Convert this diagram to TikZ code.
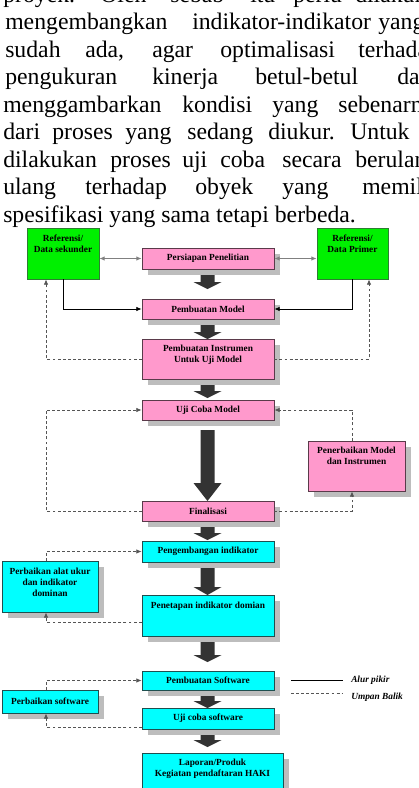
\documentclass[tikz,border=0pt]{standalone}
\usepackage{fontspec}
\setmainfont{Liberation Serif}
\usetikzlibrary{arrows.meta,shadows,calc}
\definecolor{pinkfill}{HTML}{FF99CC}
\definecolor{pinkedge}{HTML}{5A3A4A}
\definecolor{greenfill}{HTML}{00F000}
\definecolor{greenedge}{HTML}{2E7D32}
\definecolor{cyanfill}{HTML}{00FFFF}
\definecolor{cyanedge}{HTML}{1F4F4F}
\definecolor{shgrey}{HTML}{BDBDBD}
\definecolor{arrfill}{HTML}{333333}
\definecolor{fbgrey}{HTML}{555555}
\newcommand\bigarr[3]{%
  \fill[arrfill] (200.5,#1) -- (214.5,#1) -- (214.5,#2) -- (221.5,#2) -- (207.5,#3) -- (193.5,#2) -- (200.5,#2) -- cycle;}
\begin{document}
\begin{tikzpicture}[x=0.75pt,y=-0.75pt,
  para/.style={anchor=base west, inner sep=0pt, font=\fontsize{17.8}{20}\selectfont},
  shbox/.style={inner sep=0pt, line width=0.6pt, general shadow={fill=shgrey, shadow xshift=4.5pt, shadow yshift=-4.5pt}},
  pinkbox/.style={shbox, draw=pinkedge, fill=pinkfill},
  cyanbox/.style={shbox, draw=cyanedge, fill=cyanfill},
  greenbox/.style={inner sep=0pt, line width=0.6pt, draw=greenedge, fill=greenfill},
  btxt/.style={inner sep=0pt, align=center, font=\fontsize{7}{8.25}\selectfont\bfseries},
  legtxt/.style={inner sep=0pt, anchor=west, font=\fontsize{7}{8.25}\selectfont\bfseries\itshape},
  tip/.style={-{Latex[length=4pt,width=3.5pt]}},
  flow/.style={tip, line width=0.6pt, draw=black},
  fb/.style={tip, line width=0.6pt, draw=fbgrey, dash pattern=on 2.2pt off 1.6pt},
  dbl/.style={{Latex[length=4pt,width=3.5pt]}-{Latex[length=4pt,width=3.5pt]}, line width=0.8pt, draw=gray}
]
\useasboundingbox (0,0) rectangle (418,788);
\clip (0,0) rectangle (418,788);

% paragraph
\foreach \x/\w in {3/proyek.,100/Oleh,170/sebab,250/itu,293/perlu,355/dilakukan}
  \node[para] (pa\x) at (\x,2.5) {\w};
\foreach \x/\w in {5/mengembangkan,192/indikator-indikator,378/yang}
  \node[para] (pb\x) at (\x,30) {\w};
\foreach \x/\w in {5/sudah,85/{ada,},152/agar,220/optimalisasi,358/terhadap}
  \node[para] (pc\x) at (\x,57.5) {\w};
\foreach \x/\w in {5/pengukuran,152/kinerja,255/betul-betul,397/dapat}
  \node[para] (pd\x) at (\x,85) {\w};
\foreach \x/\w in {3/menggambarkan,182/kondisi,272/yang,338/sebenarnya}
  \node[para] (pe\x) at (\x,112.5) {\w};
\foreach \x/\w in {3/dari,52/proses,125/yang,187/sedang,268/diukur.,350/Untuk}
  \node[para] (pf\x) at (\x,140) {\w};
\foreach \x/\w in {3/dilakukan,110/proses,182/uji,220/coba,282/secara,355/berulang}
  \node[para] (pg\x) at (\x,167.5) {\w};
\foreach \x/\w in {3/ulang,85/terhadap,195/obyek,282/yang,362/memiliki}
  \node[para] (ph\x) at (\x,195) {\w};
\node[para] (pi3) at (3,222.5) {spesifikasi yang sama tetapi berbeda.};

% big arrows
\bigarr{269}{282}{289}
\bigarr{319}{332}{339}
\bigarr{379}{391}{398}
\bigarr{430}{483}{501}
\bigarr{521}{533}{540}
\bigarr{562}{587}{595}
\bigarr{640}{655}{662}
\bigarr{690}{701}{708}
\bigarr{729}{740}{747}

% boxes
\node[greenbox, minimum width=54pt, minimum height=38.25pt] (refL) at (63,253.5) {};
\node[greenbox, minimum width=53.25pt, minimum height=38.25pt] (refR) at (352.5,253.5) {};
\node[pinkbox, minimum width=99pt, minimum height=15.75pt] (persiapan) at (208,258.5) {};
\node[pinkbox, minimum width=99pt, minimum height=15pt] (model) at (208,309) {};
\node[pinkbox, minimum width=99pt, minimum height=30pt] (instr) at (208,359) {};
\node[pinkbox, minimum width=99pt, minimum height=15pt] (uji) at (208,410) {};
\node[pinkbox, minimum width=72.75pt, minimum height=37.5pt] (penerb) at (356.5,466) {};
\node[pinkbox, minimum width=99pt, minimum height=15pt] (final) at (208,511) {};
\node[cyanbox, minimum width=99pt, minimum height=15.75pt] (pengem) at (208,551.5) {};
\node[cyanbox, minimum width=72pt, minimum height=38.25pt] (alat) at (50,586.5) {};
\node[cyanbox, minimum width=99pt, minimum height=30.75pt] (penet) at (208,615.5) {};
\node[cyanbox, minimum width=99pt, minimum height=14.25pt] (pembsw) at (208,680.5) {};
\node[cyanbox, minimum width=72pt, minimum height=17.25pt] (perbsw) at (50,701.5) {};
\node[cyanbox, minimum width=99pt, minimum height=15.75pt] (ujisw) at (208,718.5) {};
\node[cyanbox, minimum width=105.75pt, minimum height=35.25pt] (lapor) at (212.5,776.5) {};

% box texts
\node[btxt] (refLt) at (63,244) {Referensi/\\Data sekunder};
\node[btxt] (refRt) at (352.5,244) {Referensi/\\Data Primer};
\node[btxt] (persiapant) at (persiapan) {Persiapan Penelitian};
\node[btxt] (modelt) at (model) {Pembuatan Model};
\node[btxt] (instrt) at (208,354.5) {Pembuatan Instrumen\\Untuk Uji Model};
\node[btxt] (ujit) at (uji) {Uji Coba Model};
\node[btxt] (penerbt) at (356.5,455.5) {Penerbaikan Model\\dan Instrumen};
\node[btxt] (finalt) at (final) {Finalisasi};
\node[btxt] (pengemt) at (pengem) {Pengembangan indikator};
\node[btxt] (alatt) at (50,582) {Perbaikan alat ukur\\dan indikator\\dominan};
\node[btxt] (penett) at (208,606) {Penetapan indikator domian};
\node[btxt] (pembswt) at (pembsw) {Pembuatan Software};
\node[btxt] (perbswt) at (perbsw) {Perbaikan software};
\node[btxt] (ujiswt) at (ujisw) {Uji coba software};
\node[btxt] (laport) at (212.5,768.5) {Laporan/Produk\\Kegiatan pendaftaran HAKI};

% connectors
\coordinate (xl) at (46,0);
\coordinate (xr) at (369,0);
\coordinate (xp) at (352,0);
\draw[dbl] (refL.east |- persiapan.west) -- (persiapan.west);
\draw[dbl] (persiapan.east) -- (refR.west |- persiapan.east);
\draw[flow] (refL.south) |- (model.west);
\draw[flow] (refR.south) |- (model.east);
\draw[fb] (instr.west) -| (xl |- refL.south);
\draw[fb] (instr.east) -| (xr |- refR.south);
\draw[fb] (final.west) -| (xl |- uji.west) -- (uji.west);
\draw[fb] (final.east) -| (xp |- penerb.south);
\draw[fb] (xp |- penerb.north) |- (uji.east);
\draw[fb] (xl |- alat.north) |- (pengem.west);
\coordinate (pf) at ($(penet.west)+(0,6.5)$);
\draw[fb] (pf) -| (xl |- alat.south);
\draw[fb] (xl |- perbsw.north) |- (pembsw.west);
\coordinate (uf) at ($(ujisw.west)+(0,8.5)$);
\draw[fb] (uf) -| (xl |- perbsw.south);

% legend
\coordinate (la) at (291,680);
\coordinate (lb) at (343,680);
\coordinate (lc) at (291,693);
\coordinate (ld) at (343,693);
\draw[line width=0.6pt] (la) -- (lb);
\draw[line width=0.6pt, draw=fbgrey, dash pattern=on 2.2pt off 1.6pt] (lc) -- (ld);
\node[legtxt] (lg1) at (351,680) {Alur pikir};
\node[legtxt] (lg2) at (351,697) {Umpan Balik};
\end{tikzpicture}
\end{document}
